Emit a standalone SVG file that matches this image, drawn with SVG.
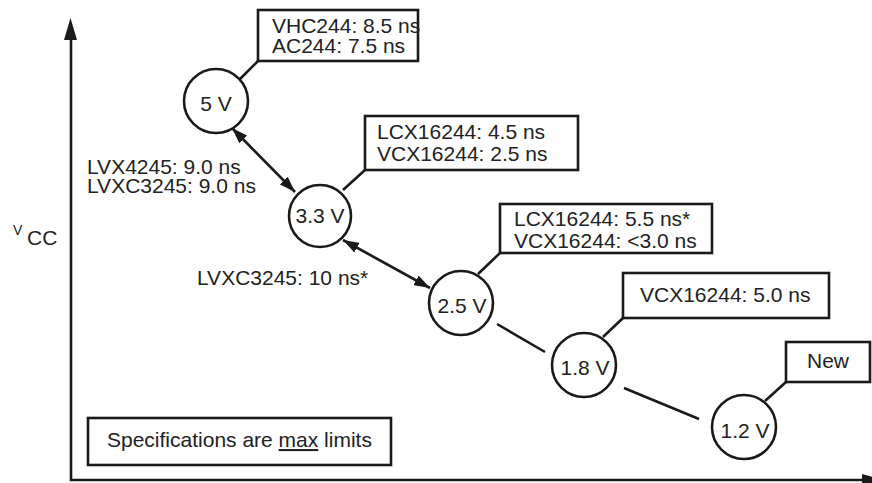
<svg xmlns="http://www.w3.org/2000/svg" width="872" height="483" viewBox="0 0 872 483">
<style>
text{font-family:"Liberation Sans",Arial,sans-serif;font-size:21px;fill:#222}
.c{text-anchor:middle}
.n{fill:#fff;stroke:#1a1a1a;stroke-width:2.6}
.b{fill:#fff;stroke:#1a1a1a;stroke-width:2.6}
.l{stroke:#1a1a1a;stroke-width:2.6;fill:none}
</style>
<defs>
<marker id="ah" viewBox="0 0 16 11" refX="16" refY="5.5" markerWidth="16" markerHeight="11" markerUnits="userSpaceOnUse" orient="auto-start-reverse">
<path d="M0,0 L16,5.5 L0,11 z" fill="#1a1a1a"/>
</marker>
</defs>
<g id="axes">
<path class="l" d="M71,40 V480 H862" stroke-width="3"/>
<path d="M64,40 L70.5,18 L77,40 z" fill="#1a1a1a"/>
<path d="M862,474 L884,480 L862,486 z" fill="#1a1a1a"/>
<text x="13" y="235"><tspan style="font-size:14px">V</tspan><tspan x="27" y="245">CC</tspan></text>
</g>
<g id="connectors">
<line class="l" x1="232" y1="128" x2="295" y2="192" marker-start="url(#ah)" marker-end="url(#ah)"/>
<line class="l" x1="343" y1="240" x2="430" y2="288" marker-start="url(#ah)" marker-end="url(#ah)"/>
<line class="l" x1="497" y1="324" x2="545" y2="352"/>
<line class="l" x1="624" y1="388" x2="699" y2="419"/>
<line class="l" x1="240" y1="79" x2="258" y2="61"/>
<line class="l" x1="343" y1="190" x2="365" y2="170"/>
<line class="l" x1="478" y1="274" x2="500" y2="253"/>
<line class="l" x1="603" y1="337" x2="623" y2="318"/>
<line class="l" x1="765" y1="401" x2="786" y2="382"/>
</g>
<g id="n5v"><circle class="n" cx="216" cy="101" r="32"/><text class="c" x="216" y="111">5 V</text></g>
<g id="n33v"><circle class="n" cx="320" cy="216" r="31"/><text class="c" x="320" y="223">3.3 V</text></g>
<g id="n25v"><circle class="n" cx="461" cy="303" r="32"/><text class="c" x="462" y="313">2.5 V</text></g>
<g id="n18v"><circle class="n" cx="584" cy="365" r="32"/><text class="c" x="585" y="375">1.8 V</text></g>
<g id="n12v"><circle class="n" cx="744" cy="427" r="32"/><text class="c" x="745" y="438">1.2 V</text></g>
<g id="box5v"><rect class="b" x="258" y="10" width="160" height="51"/><text x="272" y="33">VHC244: 8.5 ns<tspan x="272" y="53">AC244: 7.5 ns</tspan></text></g>
<g id="box33v"><rect class="b" x="365" y="116" width="213" height="54"/><text x="377" y="139">LCX16244: 4.5 ns<tspan x="377" y="161">VCX16244: 2.5 ns</tspan></text></g>
<g id="box25v"><rect class="b" x="500" y="204" width="212" height="49"/><text x="514" y="226">LCX16244: 5.5 ns*<tspan x="514" y="248">VCX16244: &lt;3.0 ns</tspan></text></g>
<g id="box18v"><rect class="b" x="623" y="273" width="206" height="45"/><text x="640" y="302">VCX16244: 5.0 ns</text></g>
<g id="box12v"><rect class="b" x="786" y="342" width="84" height="40"/><text x="807" y="368">New</text></g>
<g id="label1"><text x="87" y="174">LVX4245: 9.0 ns<tspan x="87" y="193">LVXC3245: 9.0 ns</tspan></text></g>
<g id="label2"><text x="197" y="285">LVXC3245: 10 ns*</text></g>
<g id="note"><rect class="b" x="88" y="418" width="303" height="47"/><text x="107" y="447">Specifications are <tspan text-decoration="underline">max</tspan> limits</text></g>
</svg>
